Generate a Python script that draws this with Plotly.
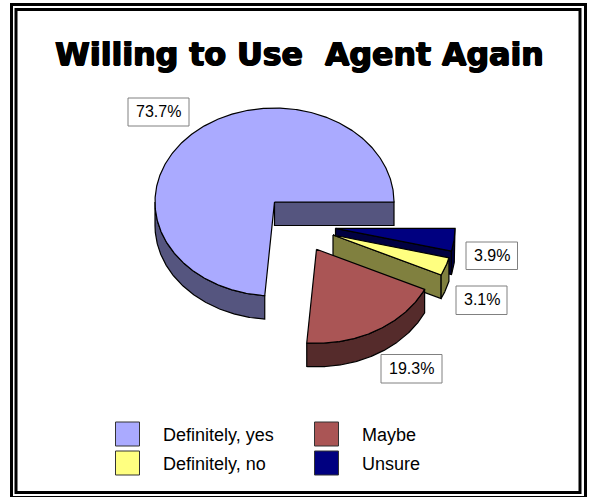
import numpy as np
import plotly.graph_objects as go

# Survey responses, in percent
categories = ["Definitely, yes", "Maybe", "Definitely, no", "Unsure"]
values = [73.7, 19.3, 3.1, 3.9]
title_text = "Willing to Use  Agent Again"

# Styling for each slice: top face, side face
top_colors = ["#AAAAFF", "#AA5555", "#FFFF80", "#000080"]
side_colors = ["#55557F", "#552B2B", "#80803F", "#000040"]

# Geometry of the tilted pie, in page pixels
RX, RY, DEPTH = 119.5, 94.0, 23.5
apexes = [(274.5, 202.0), (316.5, 249.3), (333.0, 235.0), (335.5, 228.3)]
label_boxes = [(128, 98, 189, 126), (381, 354.5, 442, 383),
               (456, 286, 507, 314.5), (466, 242, 517.5, 269.5)]
legend_slots = [(127.5, 434), (326.5, 434), (127.5, 463), (326.5, 463)]
legend_text_x = [161, 360, 161, 360]


def rim(cx, cy, a0, a1):
    """Elliptical rim between two angles (degrees, counter-clockwise from east)."""
    t = np.radians(np.linspace(a0, a1, max(int(abs(a1 - a0)) * 2, 2)))
    return cx + RX * np.cos(t), cy - RY * np.sin(t)


def poly(xs, ys, color):
    return go.Scatter(x=list(xs), y=list(ys), mode="lines", fill="toself",
                      fillcolor=color, line=dict(color="#000000", width=1.2),
                      hoverinfo="skip", showlegend=False)


def slice_traces(i, a0, a1):
    cx, cy = apexes[i]
    top, side = top_colors[i], side_colors[i]
    out = []
    # radial face at the start angle, when it turns towards the viewer
    if np.sin(np.radians(a0 - 90)) < 0 or a0 == 0:
        ex = cx + RX * np.cos(np.radians(a0))
        ey = cy - RY * np.sin(np.radians(a0))
        out.append(poly([cx, ex, ex, cx, cx],
                        [cy, ey, ey + DEPTH, cy + DEPTH, cy], side))
    # curved outer wall: only the part of the rim on the near half
    lo, hi = max(a0, 180), min(a1, 360)
    if lo < hi:
        rx, ry = rim(cx, cy, lo, hi)
        out.append(poly(np.r_[rx, rx[::-1], rx[0]],
                        np.r_[ry, ry[::-1] + DEPTH, ry[0]], side))
    # top face
    rx, ry = rim(cx, cy, a0, a1)
    out.append(poly(np.r_[cx, rx, cx], np.r_[cy, ry, cy], top))
    return out


fig = go.Figure()

# Slice spans run counter-clockwise from east
spans = []
start = 0.0
for v in values:
    spans.append((start, start + v * 3.6))
    start += v * 3.6

# Back-to-front so nearer slices cover farther ones
for i in [0, 3, 2, 1]:
    for tr in slice_traces(i, *spans[i]):
        fig.add_trace(tr)

# Legend keys
fig.add_trace(go.Scatter(
    x=[p[0] for p in legend_slots], y=[p[1] for p in legend_slots],
    mode="markers", hoverinfo="skip", showlegend=False,
    marker=dict(symbol="square", size=24, color=top_colors,
                line=dict(color="#333333", width=1))))

# Title text gets a tight black shadow so the strokes read as extra heavy
annotations = [dict(
    x=299, y=54, xref="x", yref="y", text=f"<b>{title_text}</b>",
    showarrow=False, xanchor="center", yanchor="middle",
    font=dict(family="DejaVu Sans", size=31.6, color="#000000",
              shadow="0.8px 0 0 #000, -0.8px 0 0 #000, 0 0.5px 0 #000, 0 -0.5px 0 #000"))]

for v, (x0, y0, x1, y1) in zip(values, label_boxes):
    annotations.append(dict(
        x=(x0 + x1) / 2, y=(y0 + y1) / 2 - 0.5, xref="x", yref="y",
        text=f"{v:.1f}%", showarrow=False, xanchor="center", yanchor="middle",
        font=dict(family="Liberation Sans", size=16, color="#000000")))

for name, lx, (_, ly) in zip(categories, legend_text_x, legend_slots):
    annotations.append(dict(
        x=lx, y=ly + 1, xref="x", yref="y", text=name, showarrow=False,
        xanchor="left", yanchor="middle",
        font=dict(family="Liberation Sans", size=18, color="#000000")))

shapes = [
    dict(type="rect", xref="x", yref="y", x0=x0, y0=y0, x1=x1, y1=y1,
         line=dict(color="#808080", width=1), fillcolor="#FFFFFF", layer="above")
    for (x0, y0, x1, y1) in label_boxes
]
# Double page border
shapes += [
    dict(type="rect", xref="x", yref="y", x0=11.5, y0=4.5, x1=585.5, y1=497.5,
         line=dict(color="#000000", width=3), layer="below"),
    dict(type="rect", xref="x", yref="y", x0=16, y0=9.5, x1=580, y1=492.5,
         line=dict(color="#000000", width=3), layer="below"),
]

fig.update_layout(
    width=590, height=497, margin=dict(l=0, r=0, t=0, b=0),
    paper_bgcolor="#FFFFFF", plot_bgcolor="#FFFFFF",
    xaxis=dict(range=[0, 590], visible=False, fixedrange=True),
    yaxis=dict(range=[497, 0], visible=False, fixedrange=True),
    annotations=annotations, shapes=shapes, showlegend=False,
)

fig.write_html("out.html", config={"displayModeBar": False})
